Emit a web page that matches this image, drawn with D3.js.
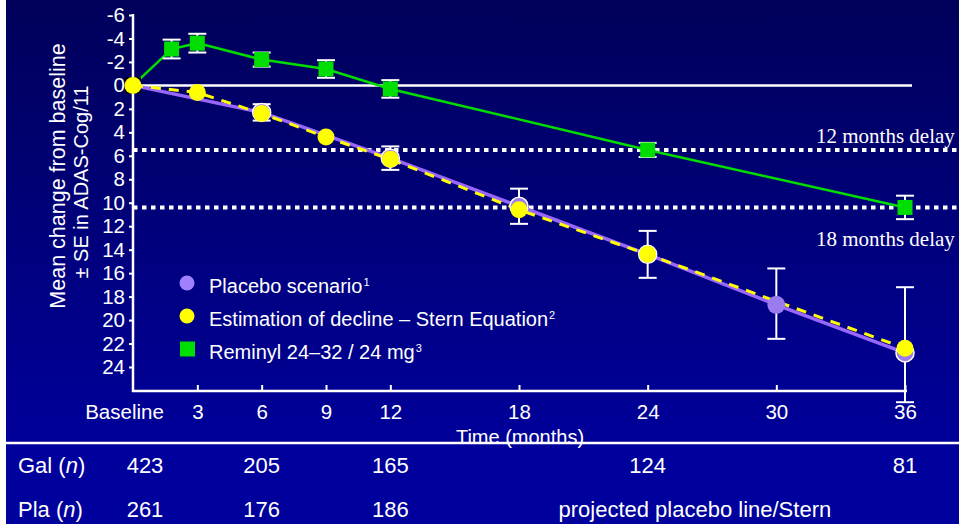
<!DOCTYPE html>
<html>
<head>
<meta charset="utf-8">
<script src="https://cdn.jsdelivr.net/npm/d3@7"></script>
<style>
  html, body { margin: 0; padding: 0; background: #fff; }
  svg { display: block; }
  text { font-family: "Liberation Sans", Arial, sans-serif; fill: #fff; }
</style>
</head>
<body>
<script>
// ---------------- DATA ----------------
const yTicks = [-6, -4, -2, 0, 2, 4, 6, 8, 10, 12, 14, 16, 18, 20, 22, 24];
const xTicks = [0, 3, 6, 9, 12, 18, 24, 30, 36];
const xTickLabels = ["Baseline", "3", "6", "9", "12", "18", "24", "30", "36"];

// Reminyl 24–32 / 24 mg (green squares)
const galMonths = [0, 1.8, 3, 6, 9, 12, 24, 36];
const galValues = [0, -3.1, -3.6, -2.2, -1.4, 0.3, 5.5, 10.4];
const galSE     = [0, 0.8, 0.8, 0.6, 0.75, 0.75, 0.6, 1.0];

// Placebo scenario (purple)
const plaMonths  = [0, 6, 12, 18, 24, 30, 36];
const plaValues  = [0, 2.3, 6.2, 10.3, 14.4, 18.7, 22.8];
const plaSEup    = [0, 0.7, 1.0, 1.5, 2.0, 3.1, 5.6];
const plaSEdown  = [0, 0.7, 1.0, 1.5, 2.0, 2.9, 4.2];

// Estimation of decline – Stern equation (yellow)
const sternMonths = [0, 3, 6, 9, 12, 18, 24, 36];
const sternValues = [0, 0.6, 2.4, 4.4, 6.3, 10.6, 14.4, 22.4];

// Delay reference lines
const delayValues = [5.5, 10.4];
const delayLabels = ["12 months delay", "18 months delay"];

// Table
const tableMonths = [0, 6, 12, 24, 36];
const galN = ["423", "205", "165", "124", "81"];
const plaN = ["261", "176", "186"];
const plaNote = "projected placebo line/Stern";

// ---------------- CHART ----------------
const W = 959, H = 524;
const svg = d3.select("body").append("svg").attr("width", W).attr("height", H);

const defs = svg.append("defs");
const grad = defs.append("linearGradient").attr("id", "bg").attr("x1", 0).attr("y1", 0).attr("x2", 0).attr("y2", 1);
grad.append("stop").attr("offset", "0%").attr("stop-color", "#00005a");
grad.append("stop").attr("offset", "100%").attr("stop-color", "#00009a");

const tableTop = 443;
svg.append("rect").attr("x", 0).attr("y", 0).attr("width", W).attr("height", tableTop).attr("fill", "url(#bg)");
svg.append("rect").attr("x", 0).attr("y", tableTop).attr("width", W).attr("height", H - tableTop).attr("fill", "#00009c");
svg.append("rect").attr("x", 0).attr("y", 0).attr("width", 6).attr("height", H).attr("fill", "#fff");

const x = d3.scaleLinear().domain([0, 36]).range([133, 905]);
const y = d3.scaleLinear().domain([-6, 24]).range([15, 367]);
const axisY = 391;

// Y axis
const yAxis = svg.append("g").attr("transform", `translate(${x(0)},0)`)
  .call(d3.axisLeft(y).tickValues(yTicks).tickFormat(d => String(d)).tickSize(4).tickPadding(4));
yAxis.select(".domain").remove();
yAxis.selectAll("line").attr("stroke", "#fff").attr("stroke-width", 2);
yAxis.selectAll("text").attr("font-size", 20.5).attr("fill", "#fff").style("font-family", "Liberation Sans, Arial");
svg.append("line").attr("x1", x(0)).attr("x2", x(0)).attr("y1", y(-6) - 1).attr("y2", axisY + 1)
  .attr("stroke", "#fff").attr("stroke-width", 2.5);

// X axis
const xAxis = svg.append("g").attr("transform", `translate(0,${axisY})`)
  .call(d3.axisBottom(x).tickValues(xTicks).tickFormat((d, i) => xTickLabels[i]).tickSize(-6));
xAxis.select(".domain").remove();
xAxis.selectAll("line").attr("stroke", "#fff").attr("stroke-width", 2)
  .filter(d => d === 0).remove();
xAxis.selectAll("text").attr("font-size", 20.5).attr("fill", "#fff").attr("y", 28).attr("dy", 0)
  .style("font-family", "Liberation Sans, Arial")
  .attr("dx", d => d === 0 ? -9 : 0);
svg.append("line").attr("x1", x(0) - 1).attr("x2", x(36) + 2).attr("y1", axisY).attr("y2", axisY)
  .attr("stroke", "#fff").attr("stroke-width", 2.5);

// Axis titles
svg.append("text").attr("transform", `translate(65,176) rotate(-90)`)
  .attr("text-anchor", "middle").attr("font-size", 21.5).text("Mean change from baseline");
svg.append("text").attr("transform", `translate(88,182) rotate(-90)`)
  .attr("text-anchor", "middle").attr("font-size", 20).text("± SE in ADAS-Cog/11");
svg.append("text").attr("x", 520).attr("y", 444).attr("text-anchor", "middle").attr("font-size", 20).text("Time (months)");

// Table line
svg.append("line").attr("x1", 6).attr("x2", W).attr("y1", tableTop).attr("y2", tableTop)
  .attr("stroke", "#fff").attr("stroke-width", 2.5);

// Delay dotted lines
svg.selectAll("line.delay").data(delayValues).join("line").attr("class", "delay")
  .attr("x1", x(0)).attr("x2", W).attr("y1", d => y(d)).attr("y2", d => y(d))
  .attr("stroke", "#fff").attr("stroke-width", 4).attr("stroke-dasharray", "4.5 4.5");
svg.selectAll("text.delay").data(delayLabels).join("text").attr("class", "delay")
  .attr("x", 816).attr("y", (d, i) => i === 0 ? y(delayValues[0]) - 7 : y(delayValues[1]) + 39)
  .attr("font-size", 21).style("font-family", "Liberation Serif, Times New Roman, serif")
  .attr("fill", "#e8e8f4").text(d => d);

// Zero line
svg.append("line").attr("x1", x(0)).attr("x2", 912).attr("y1", y(0)).attr("y2", y(0))
  .attr("stroke", "#fff").attr("stroke-width", 2.5);

// Lines
const line = d3.line().x(d => x(d[0])).y(d => y(d[1]));
const plaPts = plaMonths.map((m, i) => [m, plaValues[i]]);
const sternPts = sternMonths.map((m, i) => [m, sternValues[i]]);
const galPts = galMonths.map((m, i) => [m, galValues[i]]);

svg.append("path").attr("d", line(plaPts)).attr("fill", "none").attr("stroke", "#9966ff").attr("stroke-width", 3.5);
svg.append("path").attr("d", line(sternPts)).attr("fill", "none").attr("stroke", "#ffff00").attr("stroke-width", 3)
  .attr("stroke-dasharray", "10 8");
svg.append("path").attr("d", line(galPts)).attr("fill", "none").attr("stroke", "#00dd00").attr("stroke-width", 2.5);

// Error bars
function errBar(g, cx, yTop, yBot) {
  g.append("line").attr("x1", cx).attr("x2", cx).attr("y1", yTop).attr("y2", yBot).attr("stroke", "#fff").attr("stroke-width", 2);
  g.append("line").attr("x1", cx - 9).attr("x2", cx + 9).attr("y1", yTop).attr("y2", yTop).attr("stroke", "#fff").attr("stroke-width", 2);
  g.append("line").attr("x1", cx - 9).attr("x2", cx + 9).attr("y1", yBot).attr("y2", yBot).attr("stroke", "#fff").attr("stroke-width", 2);
}
const eb = svg.append("g");
plaMonths.forEach((m, i) => {
  if (i === 0) return;
  errBar(eb, x(m), y(plaValues[i] - plaSEup[i]), y(plaValues[i] + plaSEdown[i]));
});
galMonths.forEach((m, i) => {
  if (i === 0) return;
  errBar(eb, x(m), y(galValues[i] - galSE[i]), y(galValues[i] + galSE[i]));
});

// Placebo circles
svg.selectAll("circle.pla").data(plaPts.slice(1)).join("circle").attr("class", "pla")
  .attr("cx", d => x(d[0])).attr("cy", d => y(d[1])).attr("r", 9)
  .attr("fill", "#9b7bf0").attr("stroke", d => d[0] === 30 ? "none" : "#fff").attr("stroke-width", 1.5);

// Green squares (baseline marker dark)
const sq = 15;
svg.selectAll("rect.gal").data(galPts).join("rect").attr("class", "gal")
  .attr("x", d => x(d[0]) - (d[0] === 0 ? 8 : sq / 2)).attr("y", d => y(d[1]) - (d[0] === 0 ? 8 : sq / 2))
  .attr("width", d => d[0] === 0 ? 16 : sq).attr("height", d => d[0] === 0 ? 16 : sq)
  .attr("fill", d => d[0] === 0 ? "#000" : "#00dd00");

// Stern circles
svg.selectAll("circle.stern").data(sternPts).join("circle").attr("class", "stern")
  .attr("cx", d => x(d[0])).attr("cy", d => y(d[1])).attr("r", 8.5)
  .attr("fill", "#ffff00");

// Legend
const legendItems = [
  { label: "Placebo scenario", sup: "1", shape: "circle", color: "#a080ff" },
  { label: "Estimation of decline \u2013 Stern Equation", sup: "2", shape: "circle", color: "#ffff00" },
  { label: "Reminyl 24\u201332 / 24 mg", sup: "3", shape: "square", color: "#00dd00" }
];
const lg = svg.append("g");
legendItems.forEach((it, i) => {
  const cy = 283 + i * 33;
  if (it.shape === "circle") {
    lg.append("circle").attr("cx", 187).attr("cy", cy).attr("r", 7.5).attr("fill", it.color);
  } else {
    lg.append("rect").attr("x", 180).attr("y", cy - 7.5).attr("width", 15).attr("height", 15).attr("fill", it.color);
  }
  const t = lg.append("text").attr("x", 209).attr("y", cy + 10).attr("font-size", 20);
  t.append("tspan").text(it.label);
  t.append("tspan").attr("font-size", 11).attr("dx", 1).attr("dy", -7).text(it.sup);
});

// Table
const rowY = [473, 517];
const colX = tableMonths.map(m => x(m) + (m === 0 ? 12 : 0));
const gl = svg.append("text").attr("x", 18).attr("y", rowY[0]).attr("font-size", 22);
gl.append("tspan").text("Gal (");
gl.append("tspan").attr("font-style", "italic").text("n");
gl.append("tspan").text(")");
const pl = svg.append("text").attr("x", 18).attr("y", rowY[1]).attr("font-size", 22);
pl.append("tspan").text("Pla (");
pl.append("tspan").attr("font-style", "italic").text("n");
pl.append("tspan").text(")");
svg.selectAll("text.galn").data(galN).join("text").attr("class", "galn")
  .attr("x", (d, i) => colX[i]).attr("y", rowY[0]).attr("text-anchor", "middle").attr("font-size", 22).text(d => d);
svg.selectAll("text.plan").data(plaN).join("text").attr("class", "plan")
  .attr("x", (d, i) => colX[i]).attr("y", rowY[1]).attr("text-anchor", "middle").attr("font-size", 22).text(d => d);
svg.append("text").attr("x", x(26.2)).attr("y", rowY[1]).attr("text-anchor", "middle").attr("font-size", 22).text(plaNote);
</script>
</body>
</html>
